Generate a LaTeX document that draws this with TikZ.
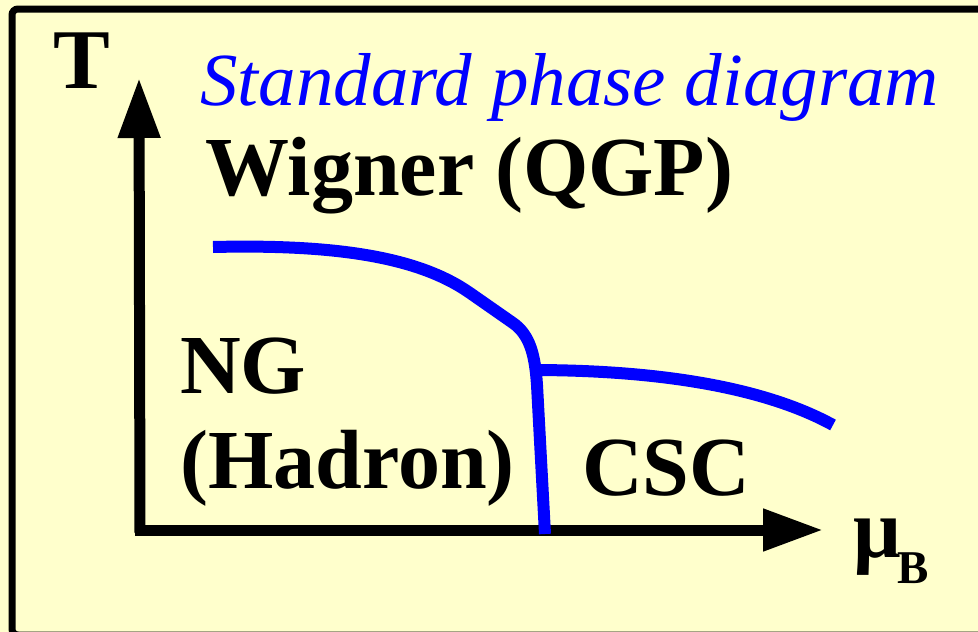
\documentclass[tikz,border=0pt]{standalone}
\usepackage{fontspec}
\setmainfont{Liberation Serif}
\usetikzlibrary{arrows.meta}
\definecolor{bg}{HTML}{FFFFCC}
\definecolor{pblue}{HTML}{0000FF}
\begin{document}
\begin{tikzpicture}[x=1pt,y=-1pt,
  lbl/.style={font=\fontsize{84}{84}\selectfont\bfseries, inner sep=0pt, anchor=base west},
  axis/.style={line width=11pt, -{Triangle[length=60pt,width=40pt]}},
  phase/.style={line width=12pt, draw=pblue}]
\useasboundingbox (0,0) rectangle (978,632);
\fill[bg] (0,0) rectangle (978,632);
\draw[line width=7pt, rounded corners=6pt] (12,9) rectangle (990,635);
% axes
\coordinate (vbot) at (140,533);
\coordinate (vtip) at (139,78);
\coordinate (hbot) at (135,530);
\coordinate (htip) at (823,530);
\draw[axis] (vbot) -- (vtip);
\draw[axis] (hbot) -- (htip);
% phase boundaries
\coordinate (p0) at (213,247);
\coordinate (p1) at (470,293);
\coordinate (p2) at (513,323);
\coordinate (p3) at (537,385);
\coordinate (p4) at (545,534);
\coordinate (q0) at (531,370);
\coordinate (q1) at (833,425);
\draw[phase] (p0) .. controls (340,244) and (420,258) .. (p1) -- (p2)
  .. controls (530,335) and (535,355) .. (p3) -- (p4);
\draw[phase] (q0) .. controls (650,370) and (760,385) .. (q1);
% labels
\node[lbl, font=\fontsize{85}{85}\selectfont\bfseries] (T) at (53,88) {T};
\node[lbl, font=\fontsize{75}{75}\selectfont\itshape, text=pblue] (title) at (200,105) {Standard phase diagram};
\node[lbl] (wig) at (205,195) {Wigner (QGP)};
\node[lbl] (ng) at (180,393) {NG};
\node[lbl] (had) at (180,488) {(Hadron)};
\node[lbl] (csc) at (582,495) {CSC};
\node[lbl] (mu) at (853,557) {μ};
\node[lbl, font=\fontsize{47}{47}\selectfont\bfseries] (B) at (897,583) {B};
\end{tikzpicture}
\end{document}
